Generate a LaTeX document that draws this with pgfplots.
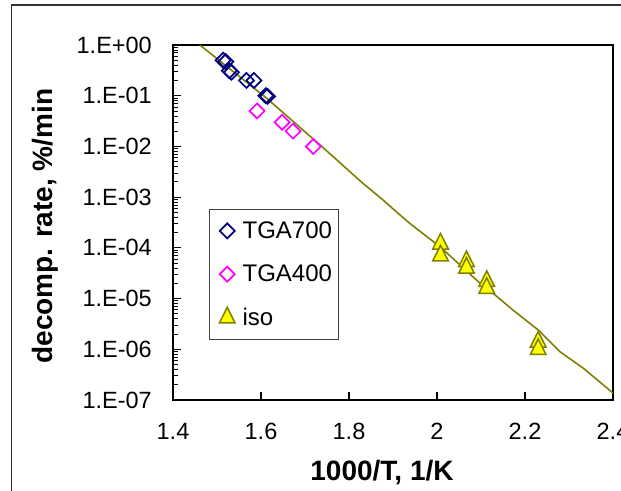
\documentclass[border=0pt]{standalone}
\usepackage{fontspec}
\setmainfont{Liberation Sans}
\usepackage{pgfplots}
\pgfplotsset{compat=1.18}
\definecolor{navyc}{RGB}{0,0,128}
\definecolor{magc}{RGB}{255,0,255}
\definecolor{yelc}{RGB}{255,255,0}
\definecolor{olivec}{RGB}{128,128,0}
\begin{document}
\begin{tikzpicture}[x=1pt,y=1pt]
\useasboundingbox (0,0) rectangle (621,490);
\fill[white] (0,0) rectangle (621,490);
\draw[black!80, line width=1.2pt] (11.5,-20) -- (11.5,485) -- (640,485);
\begin{axis}[
  at={(173pt,90pt)}, anchor=south west,
  scale only axis, width=440pt, height=355pt,
  xmin=1.4, xmax=2.4, ymin=1e-7, ymax=1, ymode=log,
  xtick={1.4,1.6,1.8,2,2.2,2.4},
  xticklabels={1.4,1.6,1.8,2,2.2,2.4},
  ytick={1e-7,1e-6,1e-5,1e-4,1e-3,1e-2,1e-1,1},
  yticklabels={1.E-07,1.E-06,1.E-05,1.E-04,1.E-03,1.E-02,1.E-01,1.E+00},
  xtick pos=bottom, ytick pos=left,
  tick align=inside, major tick length=8pt, minor tick length=5pt,
  major tick style={black, line width=1.1pt},
  minor tick style={black, line width=0.8pt},
  axis line style={black, line width=1.6pt},
  xticklabel style={font=\fontsize{23.5}{27}\selectfont, inner sep=0pt, anchor=north, yshift=-23pt},
  yticklabel style={font=\fontsize{23.5}{27}\selectfont, inner sep=0pt, anchor=east, xshift=-21pt},
  xlabel={1000/T, 1/K},
  xlabel style={font=\fontsize{28}{32}\selectfont\bfseries, at={(axis description cs:0.475,-0.2254)}, anchor=base},
  ylabel={decomp. rate, \%/min},
  ylabel style={font=\fontsize{28}{32}\selectfont\bfseries, at={(axis description cs:-0.275,0.49)}, anchor=base, rotate=0},
  legend cell align=left,
  legend image code/.code={\path (-14.8pt,0pt) (8pt,0pt); \draw[#1,mark repeat=1,mark phase=1] plot coordinates {(0pt,0pt)};},
  legend style={at={(axis description cs:0.081,0.537)}, anchor=north west,
    draw=black!75, line width=0.8pt, fill=white,
    font=\fontsize{24}{28}\selectfont,
    inner xsep=3pt, inner ysep=4.5pt,
    nodes={inner xsep=3pt, inner ysep=7.5pt},
    column sep=4pt, row sep=10pt},
]
\addplot[only marks, mark=square, mark size=5.3pt,
  mark options={rotate=45, draw=navyc, fill=white, line width=1.7pt}]
  coordinates {(1.514,0.50) (1.520,0.47) (1.528,0.31) (1.533,0.29)
               (1.567,0.20) (1.584,0.20) (1.611,0.10) (1.615,0.097)};
\addlegendentry{TGA700}
\addplot[only marks, mark=square, mark size=5.3pt,
  mark options={rotate=45, draw=magc, fill=white, line width=1.7pt}]
  coordinates {(1.591,0.05) (1.648,0.03) (1.673,0.02) (1.719,0.01)};
\addlegendentry{TGA400}
\addplot[only marks, mark=triangle*, mark size=9pt,
  mark options={yscale=1.15, draw=olivec, fill=yelc, line width=1.5pt}]
  coordinates {(2.008,1.2e-4) (2.008,7.0e-5) (2.067,5.4e-5) (2.067,4.0e-5)
               (2.113,2.2e-5) (2.113,1.6e-5) (2.230,1.4e-6) (2.230,1.0e-6)};
\addlegendentry{iso}
\addplot[olivec, line width=1.6pt, no marks, forget plot]
  coordinates {(1.461,1.0) (1.540,0.285) (1.613,0.089) (1.734,0.0107)
   (1.764,0.0063) (1.810,0.00275) (1.832,0.00186) (1.878,8.7e-4)
   (1.908,5.1e-4) (1.939,3.0e-4) (1.992,1.32e-4) (2.007,1.05e-4)
   (2.098,2.0e-5) (2.128,1.26e-5) (2.173,5.9e-6) (2.230,2.4e-6)
   (2.280,8.9e-7) (2.333,4.2e-7) (2.401,1.35e-7)};
\end{axis}
\end{tikzpicture}
\end{document}
